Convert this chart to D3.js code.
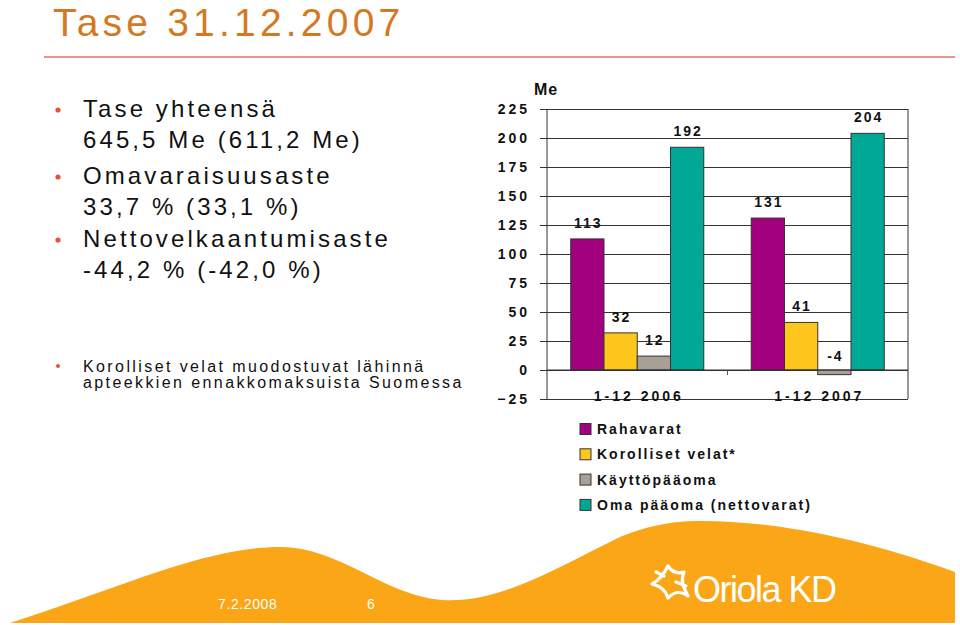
<!DOCTYPE html>
<html>
<head>
<meta charset="utf-8">
<script src="https://cdn.jsdelivr.net/npm/d3@7"></script>
<style>
  html, body { margin: 0; padding: 0; background: #fff; }
  svg { display: block; }
  text { font-family: Arial, "Liberation Sans", sans-serif; }
</style>
</head>
<body>
<svg id="chart" width="960" height="625"></svg>
<script>
// ---- data ----
const categories = ["1-12 2006", "1-12 2007"];
const seriesNames = ["Rahavarat", "Korolliset velat*", "Käyttöpääoma", "Oma pääoma (nettovarat)"];
const rahavarat = [113, 131];
const korollisetVelat = [32, 41];
const kayttopaaoma = [12, -4];
const omaPaaoma = [192, 204];
const yTicks = [-25, 0, 25, 50, 75, 100, 125, 150, 175, 200, 225];
const seriesColors = ["#A3007F", "#FFC61E", "#A89F97", "#00A895"];

const titleText = "Tase 31.12.2007";
const bullets = [
  ["Tase yhteensä", "645,5 Me (611,2 Me)"],
  ["Omavaraisuusaste", "33,7 % (33,1 %)"],
  ["Nettovelkaantumisaste", "-44,2 % (-42,0 %)"]
];
const noteLines = ["Korolliset velat muodostuvat lähinnä", "apteekkien ennakkomaksuista Suomessa"];
const footerDate = "7.2.2008";
const footerPage = "6";

const seriesValues = [rahavarat, korollisetVelat, kayttopaaoma, omaPaaoma];

const svg = d3.select("#chart");

// ---- footer band ----
svg.append("path")
  .attr("d", "M 10 623 C 120 588, 205 547, 280 547 C 340 547, 385 596, 442 600 C 500 604, 560 566, 620 537 C 655 523, 680 521, 700 521 C 790 521, 880 545, 955 572 L 955 623 Z")
  .attr("fill", "#FBA616");

svg.append("text").attr("x", 218).attr("y", 609)
  .attr("font-size", 14).attr("letter-spacing", 0.6).attr("fill", "#fff").text(footerDate);
svg.append("text").attr("x", 367).attr("y", 609)
  .attr("font-size", 14).attr("fill", "#fff").text(footerPage);

// logo
const logo = svg.append("g").attr("fill", "none").attr("stroke", "#fff").attr("stroke-width", 3.2)
  .attr("stroke-linecap", "round").attr("stroke-linejoin", "round");
logo.append("path").attr("d", "M 668 566 C 664 574, 660 580, 652 584 C 660 586, 666 590, 668 598 C 674 592, 680 590, 688 596 C 684 588, 680 582, 684 572 C 678 574, 672 572, 668 566 Z");
logo.append("path").attr("d", "M 656 572 L 664 576 M 676 582 L 686 586");
svg.append("text").attr("x", 693).attr("y", 602)
  .attr("font-family", "'Open Sans', Lato, sans-serif")
  .attr("font-weight", 300).attr("font-size", 36).attr("letter-spacing", -1.5)
  .attr("fill", "#fff").text("Oriola KD");

// ---- title ----
svg.append("text").attr("x", 53).attr("y", 36)
  .attr("font-size", 39).attr("letter-spacing", 4.2).attr("fill", "#D4791F").text(titleText);
svg.append("line").attr("x1", 44).attr("x2", 955).attr("y1", 57).attr("y2", 57)
  .attr("stroke", "#E8958A").attr("stroke-width", 2);

// ---- bullets ----
const bulletBase = [117, 184, 247];
bullets.forEach((b, i) => {
  svg.append("circle").attr("cx", 58).attr("cy", bulletBase[i] - 7).attr("r", 2.6).attr("fill", "#E8503A");
  b.forEach((line, j) => {
    svg.append("text").attr("x", 83).attr("y", bulletBase[i] + j * 31)
      .attr("font-size", 24).attr("letter-spacing", 3.1).attr("fill", "#111").text(line);
  });
});
svg.append("circle").attr("cx", 58).attr("cy", 366).attr("r", 2).attr("fill", "#E8503A");
noteLines.forEach((line, j) => {
  svg.append("text").attr("x", 83).attr("y", 372 + j * 16)
    .attr("font-size", 16).attr("letter-spacing", 2.4).attr("fill", "#111").text(line);
});

// ---- chart ----
const plot = { left: 547, right: 908, top: 109, bottom: 399 };
const y = d3.scaleLinear().domain([yTicks[0], yTicks[yTicks.length - 1]]).range([plot.bottom, plot.top]);
const x0 = d3.scaleBand().domain(categories).range([plot.left, plot.right])
  .paddingInner(0.263).paddingOuter(0.1315);
const x1 = d3.scaleBand().domain(seriesNames).range([0, x0.bandwidth()]);

// gridlines + left ticks
const yAxis = d3.axisLeft(y).tickValues(yTicks).tickSize(7).tickFormat(d3.format("d"));
const gAxis = svg.append("g").attr("transform", `translate(${plot.left},0)`).call(yAxis);
gAxis.select(".domain").remove();
gAxis.selectAll(".tick line").attr("stroke", "#333").attr("x2", -7).attr("x1", plot.right - plot.left);
gAxis.selectAll(".tick text")
  .attr("x", -17).attr("font-size", 14).attr("font-weight", "bold").attr("letter-spacing", 3)
  .attr("fill", "#111").attr("font-family", "Arial, 'Liberation Sans', sans-serif");

// frame
svg.append("line").attr("x1", plot.left).attr("x2", plot.left).attr("y1", plot.top).attr("y2", plot.bottom).attr("stroke", "#333");
svg.append("line").attr("x1", plot.right).attr("x2", plot.right).attr("y1", plot.top).attr("y2", plot.bottom).attr("stroke", "#333");

// category separator tick
const midX = (x0(categories[0]) + x0.bandwidth() + x0(categories[1])) / 2;
svg.append("line").attr("x1", midX).attr("x2", midX).attr("y1", y(0)).attr("y2", y(0) + 5).attr("stroke", "#555");

// bars
const groups = svg.selectAll("g.grp").data(categories).join("g")
  .attr("class", "grp").attr("transform", d => `translate(${x0(d)},0)`);
groups.each(function (cat, ci) {
  const g = d3.select(this);
  seriesNames.forEach((s, si) => {
    const v = seriesValues[si][ci];
    g.append("rect")
      .attr("x", x1(s)).attr("width", x1.bandwidth())
      .attr("y", y(Math.max(0, v))).attr("height", Math.abs(y(v) - y(0)))
      .attr("fill", seriesColors[si]).attr("stroke", "#333").attr("stroke-width", 1);
    g.append("text")
      .attr("x", x1(s) + x1.bandwidth() / 2 + 1)
      .attr("y", y(Math.max(0, v)) - (v < 0 ? 9 : 11))
      .attr("text-anchor", "middle").attr("font-size", 14).attr("font-weight", "bold")
      .attr("letter-spacing", 2).attr("fill", "#111").text(v);
  });
});

// zero line on top
svg.append("line").attr("x1", plot.left).attr("x2", plot.right).attr("y1", y(0)).attr("y2", y(0)).attr("stroke", "#333");

// category labels
categories.forEach(c => {
  svg.append("text").attr("x", x0(c) + x0.bandwidth() / 2 + 1.5).attr("y", 401)
    .attr("text-anchor", "middle").attr("font-size", 14).attr("font-weight", "bold")
    .attr("letter-spacing", 3).attr("fill", "#111").text(c);
});

// unit label
svg.append("text").attr("x", 534).attr("y", 95).attr("font-size", 16).attr("font-weight", "bold")
  .attr("letter-spacing", 1).attr("fill", "#111").text("Me");

// legend
seriesNames.forEach((s, i) => {
  const cy = 429 + i * 25.3;
  svg.append("rect").attr("x", 580).attr("y", cy - 5.5).attr("width", 11).attr("height", 11)
    .attr("fill", seriesColors[i]).attr("stroke", "#333");
  svg.append("text").attr("x", 597).attr("y", cy + 5).attr("font-size", 14).attr("font-weight", "bold")
    .attr("letter-spacing", 2).attr("fill", "#111").text(s);
});
</script>
</body>
</html>
